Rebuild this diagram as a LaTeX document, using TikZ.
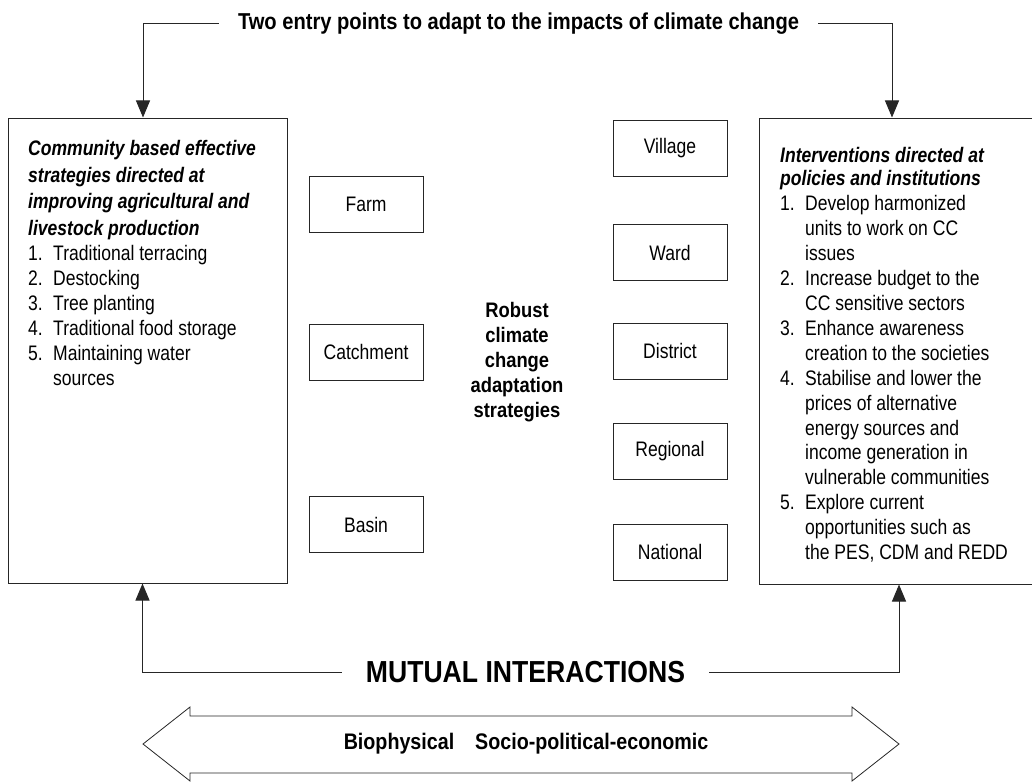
\documentclass[tikz,border=0pt]{standalone}
\usepackage{fontspec}
\setmainfont{Liberation Sans}[FakeStretch=0.835]
\newfontfamily\heavyfont{Liberation Sans}[FakeStretch=0.875]
\usetikzlibrary{arrows.meta}

\tikzset{
  thinline/.style={draw=black!85, line width=1pt},
  levelbox/.style={thinline, minimum width=114pt, minimum height=56pt, inner sep=0pt,
    font=\fontsize{21}{24}\selectfont},
  outerbox/.style={thinline, inner sep=0pt},
  entryarrow/.style={thinline, -{Triangle[length=17pt,width=14pt]}},
  heading/.style={font=\fontsize{23}{27}\selectfont\heavyfont\bfseries},
  listtext/.style={anchor=north west, inner sep=0pt, align=left,
    font=\fontsize{21}{24.9}\selectfont},
}
\newcommand{\itemno}[1]{\makebox[25pt][l]{#1}}

\begin{document}
\begin{tikzpicture}[x=1pt, y=-1pt]
    \useasboundingbox (0,0) rectangle (1032,781);
    \node[heading, inner xsep=19pt] (entry) at (518.5,24)
        {Two entry points to adapt to the impacts of climate change};
    \node[outerbox, minimum width=279pt, minimum height=465pt] (community) at (147.5,350.5) {};
    \node[outerbox, minimum width=277pt, minimum height=466pt] (policy) at (897.5,351) {};
    \foreach \name/\y in {Farm/204, Catchment/352, Basin/524.5}
        \node[levelbox] (\name) at (366,\y) {\name};
    \foreach \name/\y in {Village/148.5, Ward/252.5, District/351, Regional/451, National/552}
        \node[levelbox] (\name) at (670,\y) {\name};
    \node[align=center, font=\fontsize{21}{25}\selectfont\heavyfont\bfseries] (robust) at (517,362)
        {Robust\\climate\\change\\adaptation\\strategies};
    \node[listtext] (communitylist) at (28,139.7) {%
        {\bfseries\itshape Community based effective}\\[2pt]
        {\bfseries\itshape strategies directed at}\\[2pt]
        {\bfseries\itshape improving agricultural and}\\[2pt]
        {\bfseries\itshape livestock production}\\
        \itemno{1.}Traditional terracing\\
        \itemno{2.}Destocking\\
        \itemno{3.}Tree planting\\
        \itemno{4.}Traditional food storage\\
        \itemno{5.}Maintaining water\\
        \itemno{}sources};
    \node[listtext] (policylist) at (780,146.7) {%
        {\bfseries\itshape Interventions directed at}\\[-2pt]
        {\bfseries\itshape policies and institutions}\\[1pt]
        \itemno{1.}Develop harmonized\\
        \itemno{}units to work on CC\\
        \itemno{}issues\\
        \itemno{2.}Increase budget to the\\
        \itemno{}CC sensitive sectors\\
        \itemno{3.}Enhance awareness\\
        \itemno{}creation to the societies\\
        \itemno{4.}Stabilise and lower the\\
        \itemno{}prices of alternative\\
        \itemno{}energy sources and\\
        \itemno{}income generation in\\
        \itemno{}vulnerable communities\\
        \itemno{5.}Explore current\\
        \itemno{}opportunities such as\\
        \itemno{}the PES, CDM and REDD};
    \draw[entryarrow] (entry.west) -| ([xshift=-4.5pt]community.north);
    \draw[entryarrow] (entry.east) -| ([xshift=-5.5pt]policy.north);
    \node[font=\fontsize{30.4}{34}\selectfont\heavyfont\bfseries, inner xsep=24pt] (mutual) at (525.5,672)
        {MUTUAL INTERACTIONS};
    \draw[entryarrow] (mutual.west) -| ([xshift=-5pt]community.south);
    \draw[entryarrow] (mutual.east) -| ([xshift=1.5pt]policy.south);
    \draw[thinline, line width=0.8pt] (143,744) -- (190,707) -- (190,716) -- (852,716)
        -- (852,707) -- (899,744) -- (852,781) -- (852,773) -- (190,773) -- (190,781) -- cycle;
    \node[font=\fontsize{22.5}{26}\selectfont\heavyfont\bfseries] (spheres) at (526,744)
        {Biophysical\hspace{21pt}Socio-political-economic};
\end{tikzpicture}
\end{document}
